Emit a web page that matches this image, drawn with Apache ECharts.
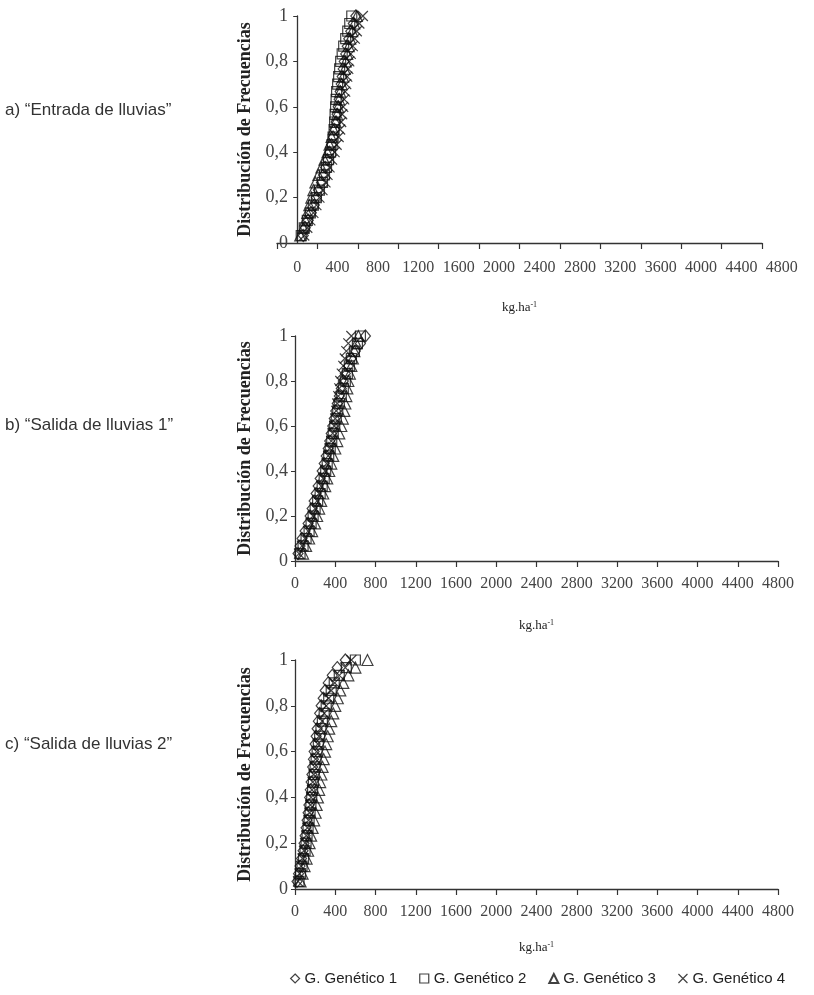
<!DOCTYPE html>
<html>
<head>
<meta charset="utf-8">
<title>Distribución de Frecuencias</title>
<script src="https://cdn.jsdelivr.net/npm/echarts@6/dist/echarts.min.js"></script>
<style>
  html, body { margin: 0; padding: 0; background: #fff; }
  #chart { width: 814px; height: 995px; }
</style>
</head>
<body>
<div id="chart"></div>
<script>
// etiquetas del eje x
const tickLabels = ['0', '400', '800', '1200', '1600', '2000', '2400', '2800', '3200', '3600', '4000', '4400', '4800'];
const groups = ['G. Genético 1', 'G. Genético 2', 'G. Genético 3', 'G. Genético 4'];
const panelTitles = ['a) “Entrada de lluvias”', 'b) “Salida de lluvias 1”', 'c) “Salida de lluvias 2”'];

// frecuencia acumulada (eje y)
const levels = [0.033, 0.067, 0.1, 0.133, 0.167, 0.2, 0.233, 0.267, 0.3, 0.333,
  0.367, 0.4, 0.433, 0.467, 0.5, 0.533, 0.567, 0.6, 0.633, 0.667,
  0.7, 0.733, 0.767, 0.8, 0.833, 0.867, 0.9, 0.933, 0.967, 1];

// a) Entrada de lluvias, kg.ha-1
const entradaG1 = [60, 80, 110, 140, 170, 190, 210, 240, 260, 280, 300, 320, 340, 355, 370, 385, 395, 405, 415, 425, 435, 445, 455, 465, 480, 495, 510, 530, 555, 580];
const entradaG2 = [40, 70, 100, 130, 160, 190, 220, 250, 270, 290, 310, 330, 345, 355, 365, 370, 375, 380, 385, 390, 400, 410, 420, 430, 445, 460, 480, 500, 520, 540];
const entradaG3 = [30, 60, 80, 100, 120, 140, 160, 180, 210, 240, 270, 300, 320, 340, 360, 380, 395, 405, 415, 425, 440, 455, 470, 480, 495, 510, 525, 545, 565, 590];
const entradaG4 = [70, 100, 130, 160, 190, 220, 250, 280, 300, 320, 345, 370, 390, 410, 425, 435, 445, 455, 465, 475, 485, 495, 505, 515, 530, 550, 570, 590, 615, 650];

// b) Salida de lluvias 1
const salida1G1 = [30, 50, 70, 100, 130, 150, 170, 190, 210, 230, 250, 270, 290, 310, 330, 345, 360, 375, 390, 405, 420, 440, 460, 480, 500, 530, 560, 600, 650, 700];
const salida1G2 = [50, 80, 110, 140, 160, 180, 200, 225, 250, 270, 290, 305, 320, 335, 350, 365, 380, 395, 410, 425, 440, 460, 480, 500, 520, 540, 560, 590, 620, 650];
const salida1G3 = [80, 110, 140, 170, 200, 220, 240, 260, 280, 300, 320, 340, 360, 380, 400, 420, 440, 460, 475, 490, 500, 510, 520, 530, 545, 560, 575, 590, 610, 630];
const salida1G4 = [40, 70, 100, 130, 160, 180, 200, 220, 240, 260, 280, 300, 315, 330, 345, 360, 375, 390, 400, 410, 420, 430, 440, 450, 465, 480, 495, 510, 530, 560];

// c) Salida de lluvias 2
const salida2G1 = [20, 35, 50, 65, 80, 90, 100, 110, 120, 130, 138, 145, 152, 160, 168, 175, 183, 190, 200, 210, 220, 232, 245, 260, 280, 300, 330, 370, 420, 500];
const salida2G2 = [40, 55, 70, 85, 100, 110, 120, 130, 140, 150, 158, 166, 175, 183, 192, 200, 210, 220, 232, 245, 258, 272, 290, 310, 335, 360, 390, 440, 510, 600];
const salida2G3 = [55, 75, 95, 115, 130, 145, 160, 175, 190, 205, 215, 228, 240, 250, 262, 274, 285, 298, 310, 325, 340, 360, 380, 400, 425, 450, 480, 530, 600, 720];
const salida2G4 = [30, 45, 60, 75, 90, 100, 112, 124, 135, 145, 153, 160, 168, 176, 185, 195, 205, 215, 228, 240, 255, 270, 290, 310, 335, 360, 395, 440, 500, 560];

const panels = [
    [entradaG1, entradaG2, entradaG3, entradaG4],
    [salida1G1, salida1G2, salida1G3, salida1G4],
    [salida2G1, salida2G2, salida2G3, salida2G4],
];

const crossPath = 'path://M0,0L10,10M10,0L0,10';
const symbols = ['diamond', 'rect', 'triangle', crossPath];
const symbolSizes = [[10, 12], 10, 11, 10];

const serif = 'Liberation Serif';
const sans = 'Liberation Sans';

function yAxisFor(gridIndex, labelMargin, nameGap) {
    return {
        type: 'value',
        gridIndex: gridIndex,
        min: 0,
        max: 1,
        interval: 0.2,
        name: 'Distribución de Frecuencias',
        nameLocation: 'middle',
        nameRotate: 90,
        nameGap: nameGap,
        nameTextStyle: { fontFamily: serif, fontWeight: 'bold', fontSize: 18, color: '#222' },
        axisLine: { show: true, lineStyle: { color: '#333', width: 1.3 } },
        axisTick: { show: true, length: 4, lineStyle: { color: '#333' } },
        splitLine: { show: false },
        axisLabel: {
            margin: labelMargin,
            fontFamily: serif,
            fontSize: 18,
            color: '#444',
            formatter: (v) => String(v).replace('.', ','),
        },
    };
}

const xName = {
    name: '{a|kg.ha}{s|-1}',
    nameLocation: 'middle',
    nameTextStyle: {
        rich: {
            a: { fontFamily: serif, fontSize: 13, color: '#222' },
            s: { fontFamily: serif, fontSize: 8, color: '#222', verticalAlign: 'top', padding: [0, 0, 6, 0] },
        },
    },
};

function valueX(gridIndex, min, max, showLabels, nameGap) {
    return Object.assign({}, xName, {
        type: 'value',
        gridIndex: gridIndex,
        min: min,
        max: max,
        interval: 400,
        nameGap: nameGap,
        axisLine: { show: true, onZero: false, lineStyle: { color: '#333', width: 1.3 } },
        axisTick: { show: true, length: 6, lineStyle: { color: '#333', width: 1.2 } },
        splitLine: { show: false },
        axisLabel: {
            show: showLabels,
            margin: 15,
            fontFamily: serif,
            fontSize: 16,
            color: '#444',
            formatter: (v) => String(v),
        },
    });
}

const series = [];
panels.forEach((panel, p) => {
    const axisIndex = p === 0 ? 0 : p + 1;
    panel.forEach((xs, g) => {
        series.push({
            name: groups[g],
            type: 'scatter',
            xAxisIndex: axisIndex,
            yAxisIndex: axisIndex,
            symbol: symbols[g],
            symbolSize: symbolSizes[g],
            itemStyle: { color: 'rgba(0,0,0,0)', borderColor: '#111', borderWidth: 1.2 },
            data: xs.map((x, i) => [x, levels[i]]),
            clip: false,
        });
    });
});

const chart = echarts.init(document.getElementById('chart'));
chart.setOption({
    animation: false,
    backgroundColor: '#fff',
    grid: [
        { left: 277, right: 52, top: 16, height: 227 },   // a
        { left: 277, width: 525, top: 16, height: 227 },  // etiquetas de a
        { left: 295, right: 36, top: 336, height: 225 },  // b
        { left: 295, right: 36, top: 660, height: 229 },  // c
    ],
    xAxis: [
        valueX(0, -200, 4600, false, 58),
        {
            type: 'category',
            gridIndex: 1,
            data: tickLabels,
            axisLine: { show: false },
            axisTick: { show: false },
            axisLabel: { interval: 0, margin: 17, fontFamily: serif, fontSize: 16, color: '#444' },
        },
        valueX(2, 0, 4800, true, 58),
        valueX(3, 0, 4800, true, 52),
    ],
    yAxis: [
        yAxisFor(0, -11, 18),
        { type: 'value', gridIndex: 1, show: false },
        yAxisFor(2, 7, 36),
        yAxisFor(3, 7, 36),
    ],
    legend: {
        left: 285,
        top: 966,
        itemGap: 22,
        itemWidth: 9,
        itemHeight: 9,
        textStyle: { fontFamily: sans, fontSize: 15, color: '#222' },
        data: groups.map((name, g) => ({
            name: name,
            icon: symbols[g],
            itemStyle: { color: 'rgba(0,0,0,0)', borderColor: '#111', borderWidth: g === 2 ? 2 : 1.2 },
        })),
    },
    graphic: panelTitles.map((t, i) => ({
        type: 'text',
        left: 5,
        top: [102, 417, 736][i],
        style: { text: t, font: '17px ' + sans, fill: '#333' },
    })),
    series: series,
});
</script>
</body>
</html>
